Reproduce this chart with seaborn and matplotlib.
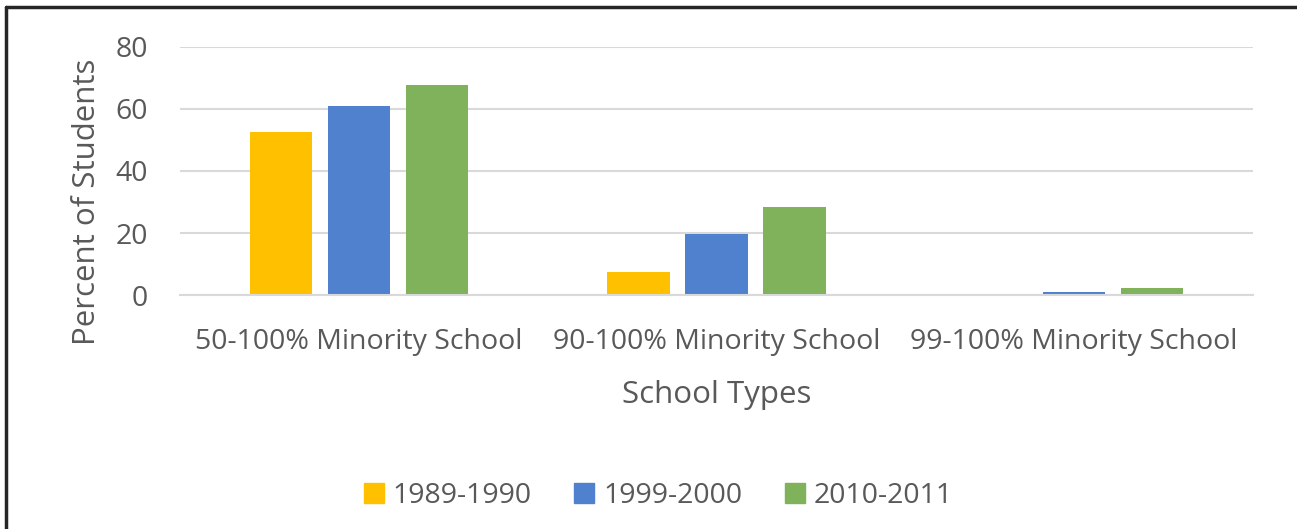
import matplotlib
matplotlib.use("Agg")
import matplotlib.pyplot as plt
from matplotlib.lines import Line2D
import seaborn as sns
import pandas as pd

categories = ["50-100% Minority School", "90-100% Minority School", "99-100% Minority School"]
years = ["1989-1990", "1999-2000", "2010-2011"]
v_1989 = [52.5, 7.3, 0.0]
v_1999 = [61.0, 19.8, 1.0]
v_2010 = [67.8, 28.3, 2.3]
colors = ["#FFC000", "#5081CE", "#7FB25A"]

rows = []
for yr, vals in zip(years, [v_1989, v_1999, v_2010]):
    for c, v in zip(categories, vals):
        rows.append({"School Types": c, "Year": yr, "Percent": v})
df = pd.DataFrame(rows)

sns.set_theme(style="white")
plt.rcParams['font.family'] = ['Open Sans', 'DejaVu Sans']

fig = plt.figure(figsize=(12.97, 5.29), dpi=100)
ax = fig.add_axes([0.1388, 0.4423, 0.8272, 0.4689])

sns.barplot(data=df, x="School Types", y="Percent", hue="Year", hue_order=years,
            palette=colors, width=0.654, gap=0.2, ax=ax, legend=False,
            edgecolor="none", saturation=1)

ax.set_ylim(0, 80)
ax.set_yticks([0, 20, 40, 60, 80])
ax.yaxis.grid(True, color="#D9D9D9", linewidth=1.5)
ax.set_axisbelow(True)
for s in ["top", "right", "left"]:
    ax.spines[s].set_visible(False)
ax.spines["bottom"].set_color("#D9D9D9")
ax.spines["bottom"].set_linewidth(1.5)
ax.tick_params(axis="both", length=0, labelsize=20.5, colors="#595959")
ax.tick_params(axis="x", pad=24)
ax.tick_params(axis="y", pad=23)
ax.set_xlabel("School Types", fontsize=22.5, color="#595959", labelpad=17)
ax.set_ylabel("Percent of Students", fontsize=22.5, color="#595959", labelpad=10)
ax.yaxis.label.set_y(0.375)

handles = [Line2D([0], [0], marker="s", linestyle="none", markersize=14.5,
                  markerfacecolor=c, markeredgecolor=c) for c in colors]
fig.legend(handles, years, loc="center", bbox_to_anchor=(0.507, 0.062), ncol=3,
           frameon=False, fontsize=20.5, labelcolor="#595959", handlelength=0.8,
           handletextpad=0.25, columnspacing=1.46)

# outer border lines (left and top)
fig.add_artist(Line2D([6/1297, 6/1297], [0, 1 - 7/529], color="#262626", linewidth=2.5,
                      transform=fig.transFigure))
fig.add_artist(Line2D([6/1297, 1], [1 - 7/529, 1 - 7/529], color="#262626", linewidth=2.5,
                      transform=fig.transFigure))

fig.savefig("out.png", dpi=100, facecolor="white")
